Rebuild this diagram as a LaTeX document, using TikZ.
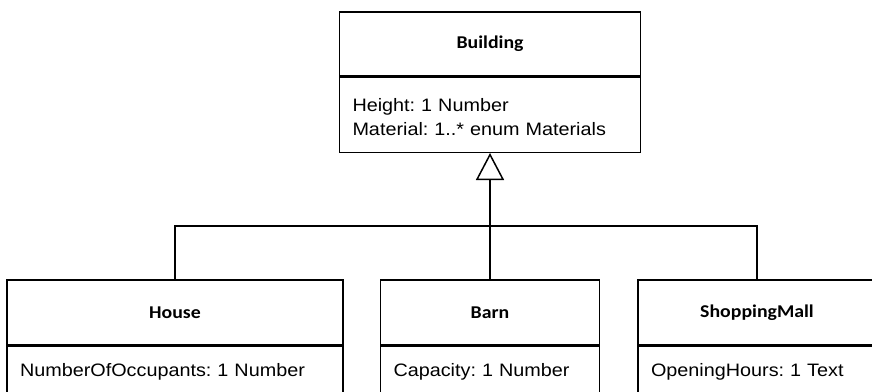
\documentclass[tikz,border=0pt]{standalone}
\usepackage{fontspec}
\setmainfont{Liberation Sans}[FakeStretch=1.1]
\newfontfamily\headfont{Carlito}[FakeStretch=1.1]
\usetikzlibrary{arrows.meta}
\frenchspacing
\tikzset{
  uml/.style={draw=black, line width=1.5pt, rectangle},
  classhead/.style={uml, inner sep=0pt, font=\headfont\bfseries\fontsize{18}{22}\selectfont},
  attrtext/.style={rectangle, inner ysep=0pt, inner xsep=13pt, align=left,
    font=\frenchspacing\fontsize{18}{24}\selectfont},
  classattr/.style={uml, attrtext},
  wire/.style={line width=1.5pt, draw=black},
  generalizes/.style={wire, -{Triangle[open, length=27pt, width=28pt]}}
}
\begin{document}
\begin{tikzpicture}[x=1pt, y=-1pt]
  \useasboundingbox (0,0) rectangle (872,391);
  \clip (0,0) rectangle (872,391);

  % parent class
  \node[classhead, minimum width=301pt, minimum height=64pt, anchor=north]
    (building) at (490,11) {Building};
  \node[uml, minimum width=301pt, minimum height=75pt, anchor=north]
    (buildingattr) at (building.south) {};
  \node[attrtext, text width=275pt, anchor=center, yshift=-2pt]
    (buildingattrtxt) at (buildingattr.center) {Height: 1 Number\\Material: 1..* enum Materials};

  % subclasses
  \node[classhead, minimum width=336pt, minimum height=65pt, anchor=north]
    (house) at (175,279) {House};
  \node[classattr, text width=310pt, minimum height=52pt, anchor=north]
    (houseattr) at (house.south) {NumberOfOccupants: 1 Number};

  \node[classhead, minimum width=219pt, minimum height=65pt, anchor=north]
    (barn) at (490,279) {Barn};
  \node[classattr, text width=193pt, minimum height=52pt, anchor=north]
    (barnattr) at (barn.south) {Capacity: 1 Number};

  \node[classhead, minimum width=238pt, minimum height=65pt, anchor=north]
    (mall) at (757,279) {ShoppingMall};
  \node[classattr, text width=212pt, minimum height=52pt, anchor=north]
    (mallattr) at (mall.south) {OpeningHours: 1 Text};

  % generalization tree
  \coordinate (bus) at (490,226);
  \draw[wire] (house.north) |- (bus) -| (mall.north);
  \draw[generalizes] (barn.north) -- (buildingattr.south);
\end{tikzpicture}
\end{document}
